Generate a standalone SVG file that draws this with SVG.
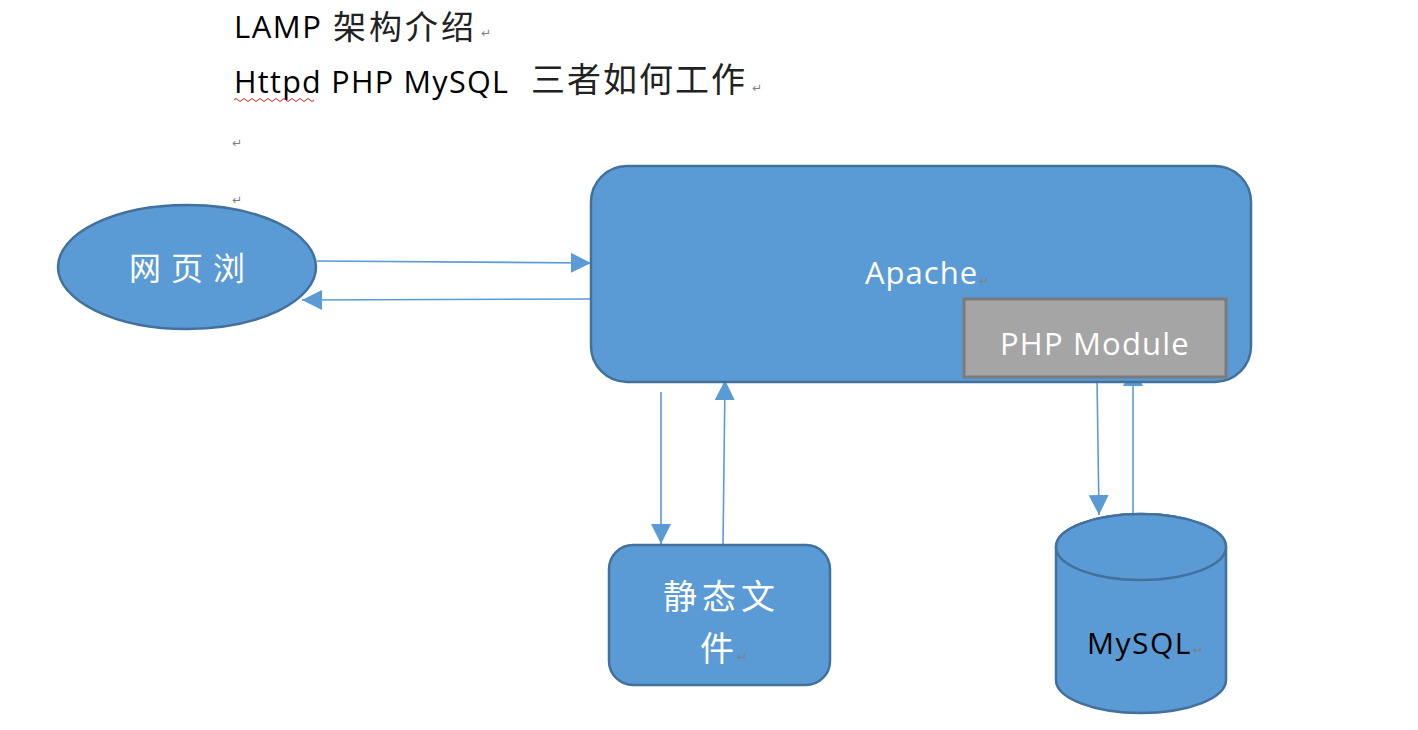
<svg xmlns="http://www.w3.org/2000/svg" width="1418" height="730" viewBox="0 0 1418 730">
<style>
.t{font-family:"Open Sans","Noto Sans CJK SC",sans-serif;}
.cjk{font-family:"Noto Sans CJK SC","Noto Sans",sans-serif;}
.w{fill:#ffffff;}
.ret{font-family:"DejaVu Sans",sans-serif;font-size:12px;fill:#808080;}
.node{fill:#5b9bd5;stroke:#41719c;stroke-width:2.5;}
.conn{stroke:#5b9bd5;stroke-width:1.6;fill:none;}
</style>
<defs>
<marker id="ah" viewBox="0 0 20 20" refX="20" refY="10" markerWidth="20" markerHeight="20" markerUnits="userSpaceOnUse" orient="auto">
<path d="M0,0 L20,10 L0,20 Z" fill="#5b9bd5"/>
</marker>
</defs>
<rect width="1418" height="730" fill="#ffffff"/>

<g id="header">
<text x="234" y="38" class="t" font-size="31" letter-spacing="1.5" fill="#000">LAMP<tspan x="333" y="39" class="cjk" font-size="33" letter-spacing="3" fill="#222">架构介绍</tspan></text>
<text x="481" y="37" class="ret">↵</text>
<text x="234" y="93" class="t" font-size="30.5" letter-spacing="1.3" fill="#000">Httpd PHP MySQL<tspan x="531" y="92" class="cjk" font-size="34" letter-spacing="2" fill="#222">三者如何工作</tspan></text>
<text x="752" y="92" class="ret">↵</text>
<path d="M234,100 q2,-3 4,0 t4,0 t4,0 t4,0 t4,0 t4,0 t4,0 t4,0 t4,0 t4,0 t4,0 t4,0 t4,0 t4,0 t4,0 t4,0 t4,0 t4,0 t4,0 t4,0" stroke="#e02020" stroke-width="1" fill="none"/>
<text x="232" y="147" class="ret">↵</text>
<text x="232" y="204" class="ret">↵</text>
</g>

<g id="connectors">
<line class="conn" x1="317" y1="261" x2="591" y2="263" marker-end="url(#ah)"/>
<line class="conn" x1="591" y1="299" x2="302" y2="300" marker-end="url(#ah)"/>
<line class="conn" x1="661" y1="392" x2="661" y2="544" marker-end="url(#ah)"/>
<line class="conn" x1="723" y1="545" x2="725" y2="380" marker-end="url(#ah)"/>
<line class="conn" x1="1097" y1="378" x2="1099" y2="515" marker-end="url(#ah)"/>
<line class="conn" x1="1133" y1="513" x2="1133" y2="366" marker-end="url(#ah)"/>
</g>

<g id="browser">
<ellipse class="node" cx="187" cy="267" rx="129" ry="62"/>
<text x="192" y="280" class="cjk w" font-size="32" text-anchor="middle" letter-spacing="10">网页浏</text>
</g>

<g id="apache">
<rect class="node" x="591" y="166" width="660" height="216" rx="36" ry="36"/>
<text x="865" y="284" class="t w" font-size="31" letter-spacing="1">Apache</text>
<text x="979" y="285" class="ret">↵</text>
</g>

<g id="php-module">
<rect x="964" y="299" width="262" height="78" fill="#a5a5a5" stroke="#7b7b7b" stroke-width="3"/>
<text x="1000" y="355" class="t w" font-size="31" letter-spacing="1.2">PHP Module</text>
</g>

<g id="static-files">
<rect class="node" x="609" y="545" width="221" height="140" rx="24" ry="24"/>
<text x="663" y="609" class="cjk w" font-size="34" letter-spacing="5">静态文</text>
<text x="700" y="661" class="cjk w" font-size="34">件</text>
<text x="737" y="661" class="ret">↵</text>
</g>

<g id="mysql">
<path class="node" d="M1056,547 L1056,680 A85,33 0 0 0 1226,680 L1226,547 A85,33 0 0 0 1056,547 Z"/>
<ellipse class="node" cx="1141" cy="547" rx="85" ry="33"/>
<text x="1087" y="654" class="t" font-size="30" letter-spacing="1.5" fill="#000">MySQL</text>
<text x="1193" y="654" class="ret">↵</text>
</g>
</svg>
